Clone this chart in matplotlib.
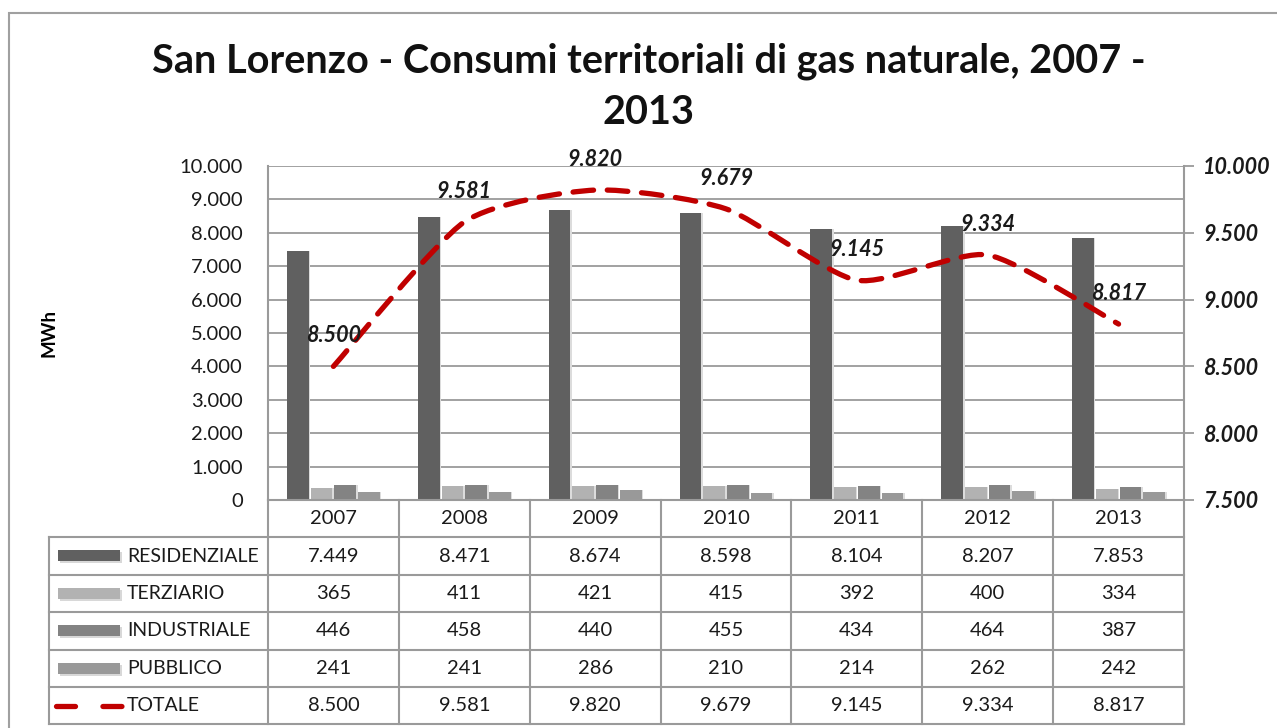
import numpy as np
import matplotlib
matplotlib.use('Agg')
import matplotlib.pyplot as plt
from matplotlib.path import Path
from matplotlib.patches import PathPatch, Rectangle
from matplotlib.lines import Line2D
import matplotlib.transforms as mtransforms

# ---------------- data ----------------
years = ['2007', '2008', '2009', '2010', '2011', '2012', '2013']
residenziale = [7449, 8471, 8674, 8598, 8104, 8207, 7853]
terziario = [365, 411, 421, 415, 392, 400, 334]
industriale = [446, 458, 440, 455, 434, 464, 387]
pubblico = [241, 241, 286, 210, 214, 262, 242]
totale = [8500, 9581, 9820, 9679, 9145, 9334, 8817]
series_names = ['RESIDENZIALE', 'TERZIARIO', 'INDUSTRIALE', 'PUBBLICO']
total_name = 'TOTALE'
left_ticks = [0, 1000, 2000, 3000, 4000, 5000, 6000, 7000, 8000, 9000, 10000]
right_ticks = [7500, 8000, 8500, 9000, 9500, 10000]
title = 'San Lorenzo - Consumi territoriali di gas naturale, 2007 -\n2013'
ylabel = 'MWh'

series = [residenziale, terziario, industriale, pubblico]
colors = ['#606060', '#b2b2b2', '#838383', '#999999']
red = '#c00000'
grid_c = '#9a9a9a'
FONT = 'Lato'
plt.rcParams['font.family'] = [FONT, 'DejaVu Sans']


def fmt(v):
    return f'{v:,}'.replace(',', '.')


W, H = 1277, 728
fig = plt.figure(figsize=(W / 100, H / 100), dpi=100)
fig.patch.set_facecolor('white')

# outer border
fig.patches.append(Rectangle((9 / W, -0.2), 1.5, 1 - 13 / H + 0.2, transform=fig.transFigure,
                             fill=False, edgecolor='#a0a0a0', lw=1.5))

L, R, T, B = 268, 1184, 166, 500
ax = fig.add_axes([L / W, 1 - B / H, (R - L) / W, (B - T) / H])
ax.set_xlim(-0.5, len(years) - 0.5)
ax.set_ylim(0, 10000)
ax.set_yticks(left_ticks)
ax.set_yticklabels([fmt(t) for t in left_ticks], fontsize=14.5, color='#1a1a1a')
ax.tick_params(axis='y', length=0, pad=18)
ax.set_xticks([])
ax.grid(axis='y', color=grid_c, lw=1.3, zorder=0)
ax.set_axisbelow(True)
for s in ['top', 'right']:
    ax.spines[s].set_visible(False)
for s in ['left', 'bottom']:
    ax.spines[s].set_color(grid_c)
    ax.spines[s].set_linewidth(1.5)

x = np.arange(len(years))
step, bw = 0.181, 0.166
for i, (vals, c) in enumerate(zip(series, colors)):
    off = (i - 1.5) * step
    # soft shadow
    ax.bar(x + off + 0.012, vals, bw, bottom=0, color='#dcdcdc', zorder=1.5, lw=0)
    ax.bar(x + off, vals, bw, color=c, zorder=2, lw=0)

ax.set_ylabel(ylabel, fontsize=13.5, fontweight='bold', labelpad=0)
ax.yaxis.set_label_coords((57 - L) / (R - L), 0.5)

# secondary axis with the total
ax2 = ax.twinx()
ax2.set_ylim(7500, 10000)
ax2.set_yticks(right_ticks)
ax2.set_yticklabels([fmt(t) for t in right_ticks], fontsize=15.5, fontweight='bold',
                    fontstyle='italic', color='#1a1a1a')
ax2.tick_params(axis='y', length=7, width=1.3, color=grid_c, pad=7)
for s in ['top', 'left', 'bottom']:
    ax2.spines[s].set_visible(False)
ax2.spines['right'].set_color(grid_c)
ax2.spines['right'].set_linewidth(1.5)

# smoothed curve (cubic Bezier) through the totals
pts = np.column_stack([x, np.array(totale, dtype=float)])
verts = [tuple(pts[0])]
codes = [Path.MOVETO]
n = len(pts)
tension = 1 / 9.0
for k in range(n - 1):
    p0 = pts[k - 1] if k > 0 else pts[k]
    p1, p2 = pts[k], pts[k + 1]
    p3 = pts[k + 2] if k + 2 < n else pts[k + 1]
    c1 = p1 + (p2 - p0) * tension
    c2 = p2 - (p3 - p1) * tension
    verts += [tuple(c1), tuple(c2), tuple(p2)]
    codes += [Path.CURVE4] * 3
patch = PathPatch(Path(verts, codes), facecolor='none', edgecolor=red, lw=3.8,
                  linestyle=(0, (3.9, 2.6)), capstyle='round', zorder=5)
ax2.add_patch(patch)

for xi, v in zip(x, totale):
    ax2.annotate(fmt(v), (xi, v), xytext=(0, 22), textcoords='offset points',
                 ha='center', va='center', fontsize=15.5, fontweight='bold',
                 fontstyle='italic', color='#1a1a1a', zorder=6)

# ---------------- data table ----------------
tr = mtransforms.blended_transform_factory(ax.transData, fig.transFigure)
ff = fig.transFigure


def fy(py):
    return 1 - py / H


rows_y = [500, 537, 575, 612, 650, 687, 724]
tab_left = 49
line_kw = dict(color=grid_c, lw=1.5)
for k, yy in enumerate(rows_y[1:]):
    fig.lines.append(Line2D([tab_left / W, R / W], [fy(yy), fy(yy)], transform=ff, **line_kw))
fig.lines.append(Line2D([tab_left / W, tab_left / W], [fy(537), fy(724)], transform=ff, **line_kw))
for k in range(len(years) + 1):
    xx = k - 0.5
    fig.lines.append(Line2D([xx, xx], [fy(500), fy(724)], transform=tr, **line_kw))

tfs = 14.5
for i, yr in enumerate(years):
    fig.text(i, fy((rows_y[0] + rows_y[1]) / 2), yr, transform=tr, ha='center', va='center',
             fontsize=tfs, color='#1a1a1a')

all_rows = series + [totale]
names = series_names + [total_name]
for r, (vals, nm) in enumerate(zip(all_rows, names)):
    yc = (rows_y[r + 1] + rows_y[r + 2]) / 2
    for i, v in enumerate(vals):
        fig.text(i, fy(yc), fmt(v), transform=tr, ha='center', va='center',
                 fontsize=tfs, color='#1a1a1a')
    fig.text(127 / W, fy(yc), nm, transform=ff, ha='left', va='center', fontsize=14,
             color='#1a1a1a')
    if r < len(series):
        fig.patches.append(Rectangle((60 / W, fy(yc + 7)), 62 / W, 11 / H, transform=ff,
                                     facecolor='#d8d8d8', lw=0))
        fig.patches.append(Rectangle((58 / W, fy(yc + 5)), 62 / W, 11 / H, transform=ff,
                                     facecolor=colors[r], lw=0))
    else:
        fig.lines.append(Line2D([56 / W, 122 / W], [fy(yc), fy(yc)], transform=ff, color=red,
                                lw=3.8, linestyle=(0, (3.6, 5.2)), solid_capstyle='round',
                                dash_capstyle='round'))

fig.text(649 / W, fy(87), title, ha='center', va='center', fontsize=28.5, fontweight='bold',
         color='#111111', linespacing=1.45)

fig.savefig('out.png', dpi=100, facecolor='white')
